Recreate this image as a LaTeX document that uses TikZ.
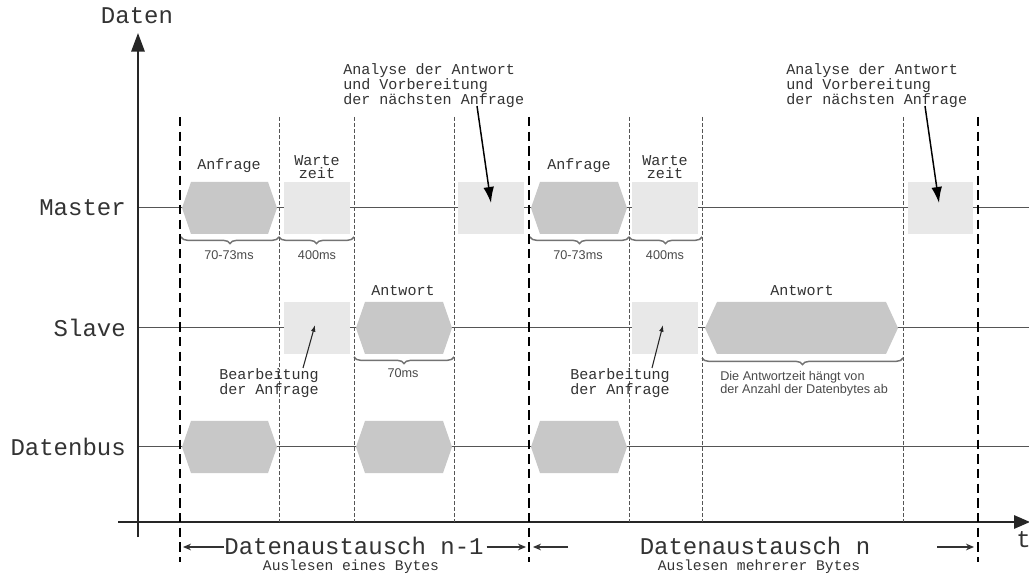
\documentclass[tikz,border=0pt]{standalone}
\usepackage{fontspec}
\setmainfont{Liberation Sans}
\newfontfamily\mono{Liberation Mono}
\usetikzlibrary{arrows.meta,decorations.pathreplacing}
\definecolor{hexgray}{HTML}{C8C8C8}
\definecolor{boxgray}{HTML}{E8E8E8}
\definecolor{linegray}{HTML}{555555}
\definecolor{txt}{HTML}{333333}
\definecolor{notegray}{HTML}{4A4A4A}
\newcommand{\hexbox}[3]{\fill[hexgray] (#1,#3) -- ({#1+9},{#3-26}) -- ({#2-9},{#3-26}) -- (#2,#3) -- ({#2-9},{#3+26}) -- ({#1+9},{#3+26}) -- cycle;}
\newcommand{\lightbox}[3]{\fill[boxgray] (#1,{#3-26}) rectangle (#2,{#3+26});}
\begin{document}
\begin{tikzpicture}[x=0.75pt,y=-0.75pt,
  bigtxt/.style={font=\mono\fontsize{18}{20}\selectfont, text=txt, inner sep=0pt},
  smalltxt/.style={font=\mono\fontsize{11.3}{10}\selectfont, text=txt, inner sep=0pt, align=center},
  subtxt/.style={font=\mono\fontsize{11}{12}\selectfont, text=txt, inner sep=0pt},
  note/.style={font=\fontsize{9.5}{9.9}\selectfont, text=notegray, inner sep=0pt},
  rowline/.style={draw=linegray, line width=0.75pt},
  thindash/.style={draw=linegray, line width=0.7pt, dash pattern=on 3pt off 1.5pt},
  thickdash/.style={draw=black, line width=2.2pt, dash pattern=on 7pt off 4pt},
  brc/.style={decorate, decoration={brace, mirror, amplitude=5pt}, draw=black!55, line width=1.1pt},
  axis/.style={draw=black!85, line width=1.5pt},
  bigarrow/.style={draw=black, line width=1.1pt, -{Latex[length=12pt,width=8pt]}},
  smallarrow/.style={draw=black!85, line width=0.8pt, -{Latex[length=5pt,width=3.5pt]}},
  spanarrow/.style={draw=black!80, line width=0.8pt, -{Stealth[length=6pt,width=5pt]}}
]
\useasboundingbox (0,0) rectangle (1029,577);
\fill[white] (0,0) rectangle (1029,577);

% row lines
\draw[rowline] (138,208) -- (1029,208);
\draw[rowline] (138,328) -- (1029,328);
\draw[rowline] (138,447) -- (1029,447);

% axes
\draw[axis, -{Triangle[length=14pt,width=10pt]}] (138,537) -- (138,33);
\draw[axis, -{Triangle[length=12pt,width=10pt]}] (118,522) -- (1030,522);
\node[bigtxt] (ylab) at (137,16) {Daten};
\node[bigtxt, anchor=west] (tlab) at (1016,540) {t};

% row labels
\node[bigtxt, anchor=east] (master) at (126,208) {Master};
\node[bigtxt, anchor=east] (slave) at (126,328) {Slave};
\node[bigtxt, anchor=east] (bus) at (126,447) {Datenbus};

% Master row
\hexbox{182}{277}{208}
\lightbox{284}{350}{208}
\lightbox{458}{524}{208}
\hexbox{531}{627}{208}
\lightbox{632}{698}{208}
\lightbox{908}{973}{208}

% Slave row
\lightbox{284}{350}{328}
\hexbox{356}{452}{328}
\lightbox{632}{698}{328}
\fill[hexgray] (705,328) -- (717,302) -- (886,302) -- (898,328) -- (886,354) -- (717,354) -- cycle;

% Datenbus row
\hexbox{182}{277}{447}
\hexbox{356}{452}{447}
\hexbox{531}{627}{447}

% braces
\draw[brc] (181,237) -- (279,237);
\draw[brc] (279,237) -- (354,237);
\draw[brc] (530,237) -- (629,237);
\draw[brc] (629,237) -- (702,237);
\draw[brc] (354,357) -- (454,357);
\draw[brc] (702,358) -- (903,358);

% thin dashed lines
\foreach \xx in {279,354,454,629,702,903}{
  \draw[thindash] (\xx,117) -- (\xx,522);
}
% thick dashed lines
\foreach \xx in {180,529,978}{
  \draw[thickdash] (\xx,117) -- (\xx,562);
}

% texts master
\node[smalltxt] (anf1) at (229,166) {Anfrage};
\node[smalltxt] (anf2) at (579,166) {Anfrage};
\node[smalltxt] (wz1) at (317,167) {Warte\\zeit};
\node[smalltxt] (wz2) at (665,167) {Warte\\zeit};
\node[note] (t1) at (229,255) {70-73ms};
\node[note] (t2) at (317,255) {400ms};
\node[note] (t3) at (578,255) {70-73ms};
\node[note] (t4) at (665,255) {400ms};
\node[smalltxt, align=left, anchor=north west] (ana1) at (343,63) {Analyse der Antwort\\und Vorbereitung\\der nächsten Anfrage};
\node[smalltxt, align=left, anchor=north west] (ana2) at (786,63) {Analyse der Antwort\\und Vorbereitung\\der nächsten Anfrage};
\coordinate (a1s) at (477,106);
\coordinate (a1e) at (491,203);
\coordinate (a2s) at (925,106);
\coordinate (a2e) at (939,203);
\draw[bigarrow] (a1s) -- (a1e);
\draw[bigarrow] (a2s) -- (a2e);

% texts slave
\node[smalltxt] (antw1) at (403,291) {Antwort};
\node[smalltxt] (antw2) at (802,291) {Antwort};
\node[note] (t5) at (403,373) {70ms};
\node[note, align=left, anchor=north west] (dauer) at (720,371) {Die Antwortzeit hängt von\\der Anzahl der Datenbytes ab};
\node[smalltxt] (bea1) at (269,383) {Bearbeitung\\der Anfrage};
\node[smalltxt] (bea2) at (620,383) {Bearbeitung\\der Anfrage};
\coordinate (b1s) at (303,368);
\coordinate (b1e) at (315,325);
\coordinate (b2s) at (652,368);
\coordinate (b2e) at (663,325);
\draw[smallarrow] (b1s) -- (b1e);
\draw[smallarrow] (b2s) -- (b2e);

% bottom
\node[bigtxt] (dn1) at (354,546) {Datenaustausch n-1};
\node[bigtxt] (dn) at (755,546) {Datenaustausch n};
\node[subtxt] (sub1) at (351,567) {Auslesen eines Bytes};
\node[subtxt] (sub2) at (759,567) {Auslesen mehrerer Bytes};
\coordinate (e1) at (183,547);
\coordinate (e2) at (526,547);
\coordinate (s3) at (568,547);
\coordinate (e3) at (533,547);
\coordinate (s4) at (937,547);
\coordinate (e4) at (974,547);
\draw[spanarrow] ([yshift=-0.75pt]dn1.west) -- (e1);
\draw[spanarrow] ([xshift=2pt,yshift=-0.75pt]dn1.east) -- (e2);
\draw[spanarrow] (s3) -- (e3);
\draw[spanarrow] (s4) -- (e4);
\end{tikzpicture}
\end{document}
